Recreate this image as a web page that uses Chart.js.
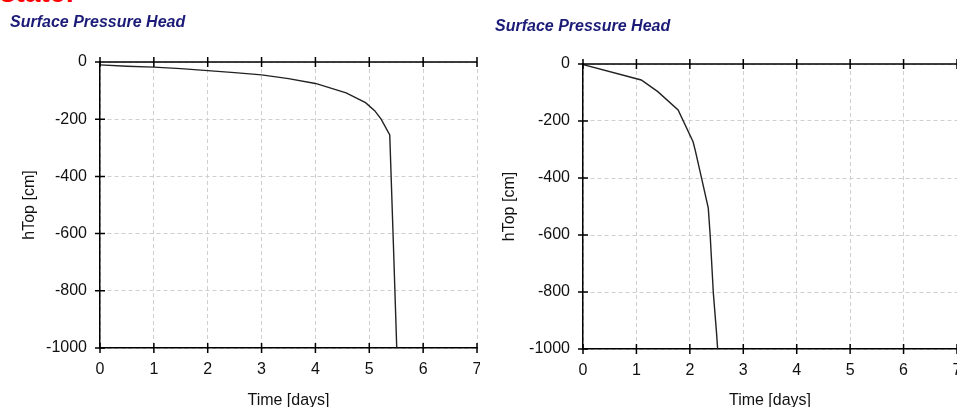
<!DOCTYPE html>
<html>
<head>
<meta charset="utf-8">
<script src="https://cdn.jsdelivr.net/npm/chart.js@4/dist/chart.umd.min.js"></script>
<style>
  body { margin: 0; background: #fff; width: 957px; height: 407px; overflow: hidden; position: relative; font-family: "Liberation Sans", Arial, sans-serif; }
  .wrap { position: absolute; top: 0; height: 407px; overflow: hidden; }
  .title { position: absolute; font: italic bold 16px "Liberation Sans", Arial, sans-serif; line-height: 18px; color: #1c1c78; white-space: nowrap; }
  #state { position: absolute; left: 0; top: -21px; font: bold 28px "Liberation Sans", Arial, sans-serif; line-height: 28px; color: #ff0000; }
</style>
</head>
<body>
<div id="state">state:</div>
<div class="wrap" style="left:0;width:480px"><canvas id="leftChart"></canvas></div>
<div class="wrap" style="left:480px;width:477px"><canvas id="rightChart"></canvas></div>
<div class="title" style="left:10px;top:13px">Surface Pressure Head</div>
<div class="title" style="left:495px;top:17px">Surface Pressure Head</div>
<script>
// left run: time [days] vs surface pressure head [cm]
const leftTime = [0, 0.5, 1, 1.5, 2, 2.5, 3, 3.5, 4, 4.3, 4.57, 4.93, 5.1, 5.22, 5.38, 5.45, 5.51];
const leftHead = [-10, -15, -18, -23, -30, -37, -45, -58, -75, -92, -108, -142, -170, -200, -255, -650, -1000];

// right run
const rightTime = [0, 1.09, 1.4, 1.78, 2.06, 2.1, 2.22, 2.345, 2.38, 2.44, 2.5, 2.52];
const rightHead = [-2, -56, -97, -161, -273, -302, -401, -506, -600, -805, -945, -1000];

const xTicks = [0, 1, 2, 3, 4, 5, 6, 7];
const yTicks = [0, -200, -400, -600, -800, -1000];

const textColor = '#111';
const tickFont = { family: 'Liberation Sans, Arial, sans-serif', size: 16 };

// solid zero line and tick marks that cross the axis lines
const axisMarks = {
    id: 'axisMarks',
    afterDraw(chart) {
        const { ctx, chartArea, scales: { x, y } } = chart;
        const top = y.getPixelForValue(0);
        const bot = y.getPixelForValue(-1000);
        ctx.save();
        ctx.strokeStyle = '#000';
        ctx.lineWidth = 1.5;
        ctx.beginPath();
        ctx.moveTo(chartArea.left, top);
        ctx.lineTo(chartArea.right, top);
        x.ticks.forEach(t => {
            const px = x.getPixelForValue(t.value);
            ctx.moveTo(px, top - 5);
            ctx.lineTo(px, top + 5);
            ctx.moveTo(px, bot - 5);
            ctx.lineTo(px, bot + 5);
        });
        y.ticks.forEach(t => {
            const py = y.getPixelForValue(t.value);
            ctx.moveTo(chartArea.left - 5, py);
            ctx.lineTo(chartArea.left + 5, py);
        });
        ctx.stroke();
        ctx.restore();
    }
};

function makeChart(canvasId, times, heads, box) {
    const canvas = document.getElementById(canvasId);
    canvas.width = 495;
    canvas.height = 407;
    canvas.style.width = '495px';
    canvas.style.height = '407px';
    return new Chart(canvas, {
        type: 'scatter',
        data: {
            datasets: [{
                data: times.map((t, i) => ({ x: t, y: heads[i] })),
                showLine: true,
                borderColor: '#222',
                borderWidth: 1.4,
                pointRadius: 0,
                tension: 0
            }]
        },
        options: {
            responsive: false,
            animation: false,
            layout: { padding: { top: box.top, right: 495 - box.right, left: 0, bottom: 0 } },
            scales: {
                x: {
                    type: 'linear',
                    min: 0,
                    max: 7,
                    afterBuildTicks: scale => { scale.ticks = xTicks.map(v => ({ value: v })); },
                    afterFit: scale => { scale.height = 407 - box.bottom; },
                    grid: { color: '#cfcfcf', lineWidth: 1, drawTicks: false },
                    border: { display: true, color: '#000', width: 1.5, dash: [4, 3] },
                    ticks: { color: textColor, font: tickFont, padding: 12, maxRotation: 0, callback: v => String(v) },
                    title: { display: true, text: 'Time [days]', color: textColor, font: tickFont, padding: { top: 0, bottom: -3 } }
                },
                y: {
                    type: 'linear',
                    min: -1000,
                    max: 0,
                    afterBuildTicks: scale => { scale.ticks = yTicks.map(v => ({ value: v })); },
                    afterFit: scale => { scale.width = box.left; },
                    grid: { color: '#cfcfcf', lineWidth: 1, drawTicks: false },
                    border: { display: true, color: '#000', width: 1.5, dash: [4, 3] },
                    ticks: { color: textColor, font: tickFont, padding: 13, callback: v => String(v) },
                    title: { display: true, text: 'hTop [cm]', color: textColor, font: tickFont, padding: { top: 20, bottom: 0 } }
                }
            },
            plugins: {
                legend: { display: false },
                tooltip: { enabled: false }
            }
        },
        plugins: [axisMarks]
    });
}

makeChart('leftChart', leftTime, leftHead, { left: 100, right: 477, top: 62, bottom: 348 });
makeChart('rightChart', rightTime, rightHead, { left: 103, right: 477, top: 64, bottom: 349 });
</script>
</body>
</html>
